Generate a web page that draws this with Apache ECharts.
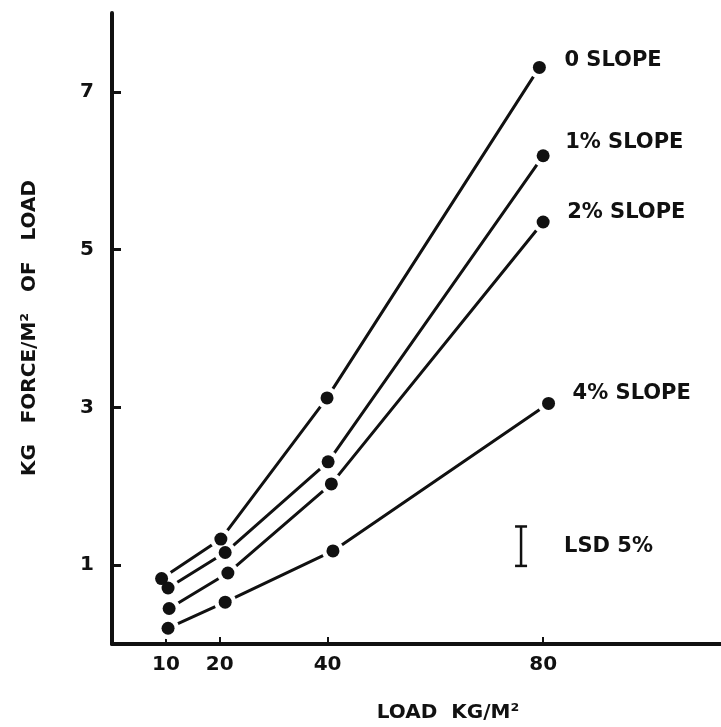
<!DOCTYPE html>
<html>
<head>
<meta charset="utf-8">
<script src="https://cdn.jsdelivr.net/npm/echarts@6/dist/echarts.min.js"></script>
<style>
  html, body { margin: 0; padding: 0; background: #fff; }
  #chart { width: 721px; height: 727px; }
</style>
</head>
<body>
<div id="chart"></div>
<script>
// tick labels
const loadTicks = [10, 20, 40, 80]
const forceTicks = [1, 3, 5, 7]

// series (x, the dots sit a bit off the nominal loads)
const seriesNames = ['0 SLOPE', '1% SLOPE', '2% SLOPE', '4% SLOPE']
const loadSlope0 = [9.2, 20.2, 39.9, 79.3]
const forceSlope0 = [0.83, 1.33, 3.12, 7.31]
const loadSlope1 = [10.4, 21.0, 40.1, 80.0]
const forceSlope1 = [0.71, 1.16, 2.31, 6.19]
const loadSlope2 = [10.6, 21.5, 40.7, 80.0]
const forceSlope2 = [0.45, 0.90, 2.03, 5.35]
const loadSlope4 = [10.4, 21.0, 41.0, 81.0]
const forceSlope4 = [0.20, 0.53, 1.18, 3.05]

// LSD 5% bar
const lsdLoad = 75.9
const lsdLow = 0.99
const lsdHigh = 1.49

const font = 'DejaVu Sans'
const ink = '#111'
const loads = [loadSlope0, loadSlope1, loadSlope2, loadSlope4]
const forces = [forceSlope0, forceSlope1, forceSlope2, forceSlope4]
// label offsets relative to the last dot
const labelOffsets = [[6, -7], [3, -13], [5, -9], [5, -10]]

const chart = echarts.init(document.getElementById('chart'))

// lines with white disks so they stop short of the dots
const lineSeries = seriesNames.map((name, i) => ({
  name: name,
  type: 'line',
  data: loads[i].map((x, j) => [x, forces[i][j]]),
  symbol: 'circle',
  symbolSize: 22,
  itemStyle: { color: '#fff', opacity: 1 },
  lineStyle: { color: ink, width: 3 },
  emphasis: { disabled: true },
  z: 2,
  endLabel: {
    show: true,
    formatter: name,
    color: ink,
    fontFamily: font,
    fontWeight: 'bold',
    fontSize: 21,
    distance: 19,
    offset: labelOffsets[i],
  },
}))

const dotSeries = seriesNames.map((name, i) => ({
  name: name + ' dots',
  type: 'scatter',
  data: loads[i].map((x, j) => [x, forces[i][j]]),
  symbol: 'circle',
  symbolSize: 13,
  itemStyle: { color: ink, opacity: 1 },
  emphasis: { disabled: true },
  z: 5,
}))

chart.setOption({
  animation: false,
  backgroundColor: '#fff',
  grid: {
    left: 112,
    right: 0,
    top: 13,
    bottom: 83,
  },
  xAxis: {
    type: 'value',
    min: 0,
    max: 113,
    splitLine: { show: false },
    axisLine: { lineStyle: { color: ink, width: 4 } },
    axisTick: {
      customValues: loadTicks,
      inside: true,
      length: 7,
      lineStyle: { color: ink, width: 2 },
    },
    axisLabel: {
      customValues: loadTicks,
      margin: 11,
      color: ink,
      fontFamily: font,
      fontWeight: 'bold',
      fontSize: 20,
    },
  },
  yAxis: {
    type: 'value',
    min: 0,
    max: 8,
    splitLine: { show: false },
    axisLine: { lineStyle: { color: ink, width: 4 } },
    axisTick: {
      customValues: forceTicks,
      inside: true,
      length: 9,
      lineStyle: { color: ink, width: 3 },
    },
    axisLabel: {
      customValues: forceTicks,
      margin: 18,
      color: ink,
      fontFamily: font,
      fontWeight: 'bold',
      fontSize: 20,
    },
  },
  graphic: [
    {
      type: 'text',
      x: 448,
      y: 713,
      style: {
        text: 'LOAD  KG/M²',
        font: 'bold 20px ' + font,
        fill: ink,
        align: 'center',
        verticalAlign: 'middle',
      },
    },
    {
      type: 'text',
      x: 30,
      y: 328,
      rotation: Math.PI / 2,
      style: {
        text: 'KG   FORCE/M²   OF   LOAD',
        font: 'bold 20px ' + font,
        fill: ink,
        align: 'center',
        verticalAlign: 'middle',
      },
    },
  ],
  series: [
    ...lineSeries,
    ...dotSeries,
    {
      name: 'LSD 5%',
      type: 'custom',
      data: [[lsdLoad, lsdLow, lsdHigh]],
      encode: { x: 0, y: [1, 2] },
      z: 5,
      renderItem: function (params, api) {
        const lo = api.coord([api.value(0), api.value(1)])
        const hi = api.coord([api.value(0), api.value(2)])
        const cap = 6
        const st = { stroke: ink, lineWidth: 2.5 }
        return {
          type: 'group',
          children: [
            { type: 'line', shape: { x1: lo[0], y1: lo[1], x2: hi[0], y2: hi[1] }, style: st },
            { type: 'line', shape: { x1: lo[0] - cap, y1: lo[1], x2: lo[0] + cap, y2: lo[1] }, style: st },
            { type: 'line', shape: { x1: hi[0] - cap, y1: hi[1], x2: hi[0] + cap, y2: hi[1] }, style: st },
            {
              type: 'text',
              x: lo[0] + 43,
              y: (lo[1] + hi[1]) / 2,
              style: {
                text: 'LSD 5%',
                font: 'bold 21px ' + font,
                fill: ink,
                verticalAlign: 'middle',
              },
            },
          ],
        }
      },
    },
  ],
})
</script>
</body>
</html>
